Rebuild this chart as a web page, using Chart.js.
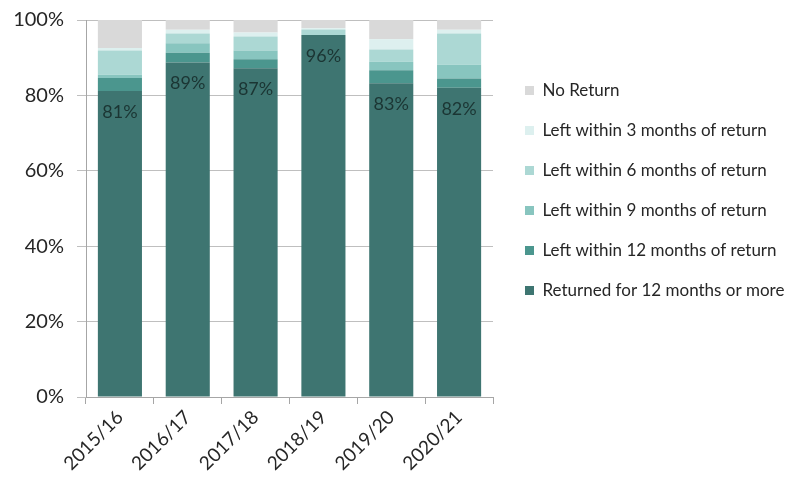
<!DOCTYPE html>
<html>
<head>
<meta charset="utf-8">
<script src="https://cdn.jsdelivr.net/npm/chart.js@4"></script>
<style>
  body { margin: 0; background: #fff; }
  #wrap { width: 789px; height: 488px; }
</style>
</head>
<body>
<div id="wrap"><canvas id="graficaRetorno"></canvas></div>
<script>
const anios = ["2015/16", "2016/17", "2017/18", "2018/19", "2019/20", "2020/21"];

const retorno12mas = [81.2, 88.7, 87.2, 96.0, 83.2, 82.0];
const dentro12 = [3.4, 2.6, 2.4, 0, 3.5, 2.5];
const dentro9 = [0.9, 2.5, 2.3, 0, 2.2, 3.6];
const dentro6 = [6.4, 2.6, 3.7, 1.5, 3.3, 8.3];
const dentro3 = [0.7, 1.0, 1.1, 0.3, 2.7, 1.0];
const sinRetorno = [7.4, 2.6, 3.3, 2.2, 5.1, 2.6];

const etiquetasY = ["0%", "20%", "40%", "60%", "80%", "100%"];

const fuente = "Lato, 'DejaVu Sans', sans-serif";

// etiquetas de % sobre la serie oscura
const etiquetasBarra = {
    id: "etiquetasBarra",
    afterDatasetsDraw(chart) {
        const ctx = chart.ctx;
        const meta = chart.getDatasetMeta(0);
        ctx.save();
        ctx.font = "18px " + fuente;
        ctx.fillStyle = "#1b3533";
        ctx.textAlign = "center";
        ctx.textBaseline = "middle";
        meta.data.forEach((bar, i) => {
            ctx.fillText(Math.round(retorno12mas[i]) + "%", bar.x, bar.y + 21);
        });
        ctx.restore();
    }
};

function crearGrafica() {
    const ctx = document.getElementById("graficaRetorno");

    new Chart(ctx, {
        type: "bar",
        data: {
            labels: anios,
            datasets: [
                { label: "Returned for 12 months or more", data: retorno12mas, backgroundColor: "#3e7571" },
                { label: "Left within 12 months of return", data: dentro12, backgroundColor: "#4b968e" },
                { label: "Left within 9 months of return", data: dentro9, backgroundColor: "#88c5bf" },
                { label: "Left within 6 months of return", data: dentro6, backgroundColor: "#acd8d4" },
                { label: "Left within 3 months of return", data: dentro3, backgroundColor: "#ddf0ef" },
                { label: "No Return", data: sinRetorno, backgroundColor: "#d9d9d9" }
            ]
        },
        options: {
            responsive: true,
            maintainAspectRatio: false,
            animation: false,
            layout: { padding: { top: 20, right: 0, left: 0, bottom: 0 } },
            datasets: {
                bar: { categoryPercentage: 0.65, barPercentage: 1.0, borderWidth: 0 }
            },
            plugins: {
                tooltip: { enabled: false },
                legend: {
                    position: "right",
                    align: "start",
                    reverse: true,
                    maxWidth: 287,
                    title: { display: true, text: " ", padding: { top: 27, bottom: 0 }, font: { size: 10 } },
                    labels: {
                        font: { family: fuente, size: 17 },
                        color: "#262626",
                        boxWidth: 9,
                        boxHeight: 9,
                        padding: 23
                    }
                }
            },
            scales: {
                x: {
                    stacked: true,
                    grid: { offset: true, drawOnChartArea: false, tickLength: 7, color: "#a6a6a6" },
                    border: { color: "#a6a6a6" },
                    ticks: {
                        font: { family: fuente, size: 19 },
                        color: "#262626",
                        maxRotation: 45,
                        minRotation: 45,
                        padding: 2
                    },
                    afterFit(scale) { scale.height = 91; }
                },
                y: {
                    stacked: true,
                    min: 0,
                    max: 100,
                    grid: { color: "#bfbfbf", tickLength: 9 },
                    border: { color: "#a6a6a6" },
                    ticks: {
                        stepSize: 20,
                        font: { family: fuente, size: 20 },
                        color: "#262626",
                        padding: 13,
                        callback: (v) => etiquetasY[v / 20]
                    },
                    afterFit(scale) {
                        scale.width = 86;
                        scale.paddingTop = 0;
                        scale.paddingBottom = 0;
                    }
                },
                // eje vacío solo para dejar hueco antes de la leyenda
                hueco: {
                    position: "right",
                    grid: { display: false },
                    border: { display: false },
                    ticks: { display: false },
                    afterFit(scale) { scale.width = 9; }
                }
            }
        },
        plugins: [etiquetasBarra]
    });
}

document.addEventListener("DOMContentLoaded", () => {
    Promise.all([
        document.fonts.load("17px Lato"),
        document.fonts.load("20px Lato")
    ]).then(crearGrafica, crearGrafica);
});
</script>
</body>
</html>
